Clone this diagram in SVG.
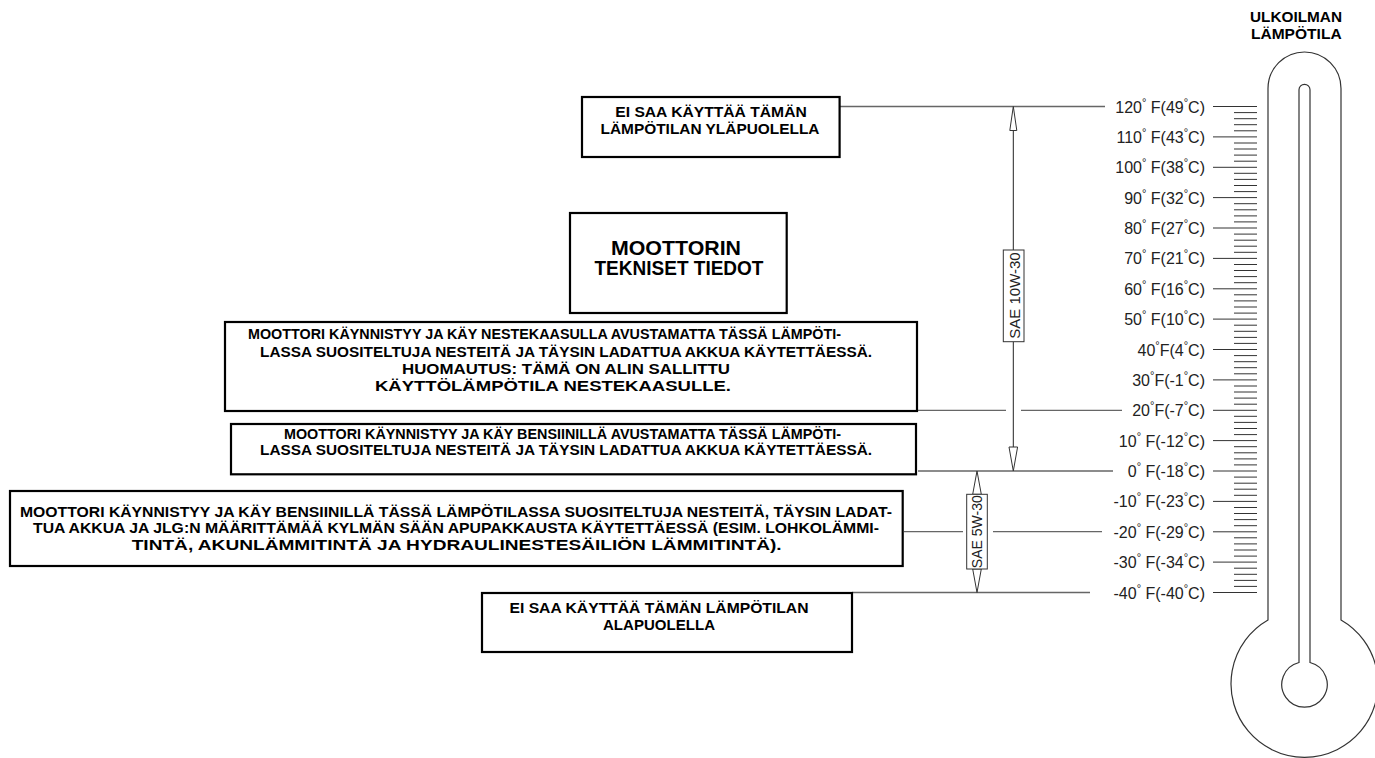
<svg xmlns="http://www.w3.org/2000/svg" width="1375" height="758" viewBox="0 0 1375 758">
<style>
.box{fill:#fff;stroke:#000;stroke-width:2.2}
.bt{font-family:"Liberation Sans",Arial,sans-serif;font-weight:bold;font-size:14px;fill:#000}
.big{font-family:"Liberation Sans",Arial,sans-serif;font-weight:bold;font-size:20px;fill:#000}
.lbl{font-family:"Liberation Sans",Arial,sans-serif;font-size:16px;fill:#222}
.deg{font-size:11px}
.sae{font-family:"Liberation Sans",Arial,sans-serif;font-size:15px;fill:#222}
.conn{stroke:#666;stroke-width:1.3;fill:none}
.arr{stroke:#222;stroke-width:1;fill:none}
.head{stroke:#333;stroke-width:1;fill:#fff}
.tick{stroke:#333;stroke-width:1}
.thermo{stroke:#333;stroke-width:1.2;fill:none}
</style>
<rect width="1375" height="758" fill="#fff"/>

<g id="connectors">
  <line class="conn" x1="840" y1="106.5" x2="1105" y2="106.5"/>
  <line class="conn" x1="918" y1="410.3" x2="1006" y2="410.3"/>
  <line class="conn" x1="1021" y1="410.3" x2="1122" y2="410.3"/>
  <line class="conn" x1="918" y1="471" x2="1113" y2="471"/>
  <line class="conn" x1="904" y1="531.7" x2="963" y2="531.7"/>
  <line class="conn" x1="993" y1="531.7" x2="1102" y2="531.7"/>
  <line class="conn" x1="852" y1="592.5" x2="1090" y2="592.5"/>
  <g id="sae10w30">
    <line class="arr" x1="1013.3" y1="130" x2="1013.3" y2="250"/>
    <line class="arr" x1="1013.3" y1="341.7" x2="1013.3" y2="447"/>
    <polygon class="head" points="1013.3,106.5 1009.8,130.5 1016.8,130.5"/>
    <polygon class="head" points="1013.3,471 1009,447 1017.6,447"/>
    <rect x="1003.3" y="250" width="20.7" height="91.7" fill="#fff" stroke="#333" stroke-width="1"/>
    <text class="sae" transform="translate(1019.8,295.5) rotate(-90)" text-anchor="middle">SAE 10W-30</text>
  </g>
  <g id="sae5w30">
    <polygon class="head" points="977,471 972.7,494.3 981.3,494.3"/>
    <polygon class="head" points="977,592.5 972.7,569 981.3,569"/>
    <rect x="966.7" y="494.3" width="20.6" height="74.7" fill="#fff" stroke="#333" stroke-width="1"/>
    <text class="sae" style="font-size:14px" transform="translate(982,531.7) rotate(-90)" text-anchor="middle">SAE 5W-30</text>
  </g>
</g>

<g id="box-above">
  <rect class="box" x="582" y="97" width="257.6" height="60"/>
  <text class="bt" x="711" y="117" text-anchor="middle" textLength="191.5" lengthAdjust="spacingAndGlyphs">EI SAA KÄYTTÄÄ TÄMÄN</text>
  <text class="bt" x="710" y="134" text-anchor="middle" textLength="219" lengthAdjust="spacingAndGlyphs">LÄMPÖTILAN YLÄPUOLELLA</text>
</g>

<g id="box-title">
  <rect class="box" x="570" y="213" width="216.7" height="100"/>
  <text class="big" x="676" y="255" text-anchor="middle" textLength="130" lengthAdjust="spacingAndGlyphs">MOOTTORIN</text>
  <text class="big" x="679" y="275" text-anchor="middle" textLength="169" lengthAdjust="spacingAndGlyphs">TEKNISET TIEDOT</text>
</g>

<g id="box-lpg">
  <rect class="box" x="225" y="322" width="692" height="89"/>
  <text class="bt" x="248" y="339.3" textLength="593" lengthAdjust="spacingAndGlyphs">MOOTTORI KÄYNNISTYY JA KÄY NESTEKAASULLA AVUSTAMATTA TÄSSÄ LÄMPÖTI-</text>
  <text class="bt" x="260" y="356.7" textLength="612" lengthAdjust="spacingAndGlyphs">LASSA SUOSITELTUJA NESTEITÄ JA TÄYSIN LADATTUA AKKUA KÄYTETTÄESSÄ.</text>
  <text class="bt" x="402" y="374" textLength="328" lengthAdjust="spacingAndGlyphs">HUOMAUTUS: TÄMÄ ON ALIN SALLITTU</text>
  <text class="bt" x="375" y="391" textLength="356" lengthAdjust="spacingAndGlyphs">KÄYTTÖLÄMPÖTILA NESTEKAASULLE.</text>
</g>

<g id="box-petrol">
  <rect class="box" x="231" y="424" width="685" height="50.3"/>
  <text class="bt" x="284" y="438.8" textLength="557" lengthAdjust="spacingAndGlyphs">MOOTTORI KÄYNNISTYY JA KÄY BENSIINILLÄ AVUSTAMATTA TÄSSÄ LÄMPÖTI-</text>
  <text class="bt" x="260" y="455.3" textLength="612" lengthAdjust="spacingAndGlyphs">LASSA SUOSITELTUJA NESTEITÄ JA TÄYSIN LADATTUA AKKUA KÄYTETTÄESSÄ.</text>
</g>

<g id="box-cold">
  <rect class="box" x="10" y="491" width="892.7" height="75"/>
  <text class="bt" x="20" y="517" textLength="872" lengthAdjust="spacingAndGlyphs">MOOTTORI KÄYNNISTYY JA KÄY BENSIINILLÄ TÄSSÄ LÄMPÖTILASSA SUOSITELTUJA NESTEITÄ, TÄYSIN LADAT-</text>
  <text class="bt" x="33" y="533.3" textLength="846" lengthAdjust="spacingAndGlyphs">TUA AKKUA JA JLG:N MÄÄRITTÄMÄÄ KYLMÄN SÄÄN APUPAKKAUSTA KÄYTETTÄESSÄ (ESIM. LOHKOLÄMMI-</text>
  <text class="bt" x="131.7" y="549.5" textLength="650" lengthAdjust="spacingAndGlyphs">TINTÄ, AKUNLÄMMITINTÄ JA HYDRAULINESTESÄILIÖN LÄMMITINTÄ).</text>
</g>

<g id="box-below">
  <rect class="box" x="482" y="593" width="370" height="59"/>
  <text class="bt" x="659" y="613.3" text-anchor="middle" textLength="299" lengthAdjust="spacingAndGlyphs">EI SAA KÄYTTÄÄ TÄMÄN LÄMPÖTILAN</text>
  <text class="bt" x="659" y="630" text-anchor="middle" textLength="112" lengthAdjust="spacingAndGlyphs">ALAPUOLELLA</text>
</g>

<g id="thermometer">
  <text class="bt" x="1296" y="21.5" text-anchor="middle" textLength="92" lengthAdjust="spacingAndGlyphs">ULKOILMAN</text>
  <text class="bt" x="1296.3" y="39.3" text-anchor="middle" textLength="90.7" lengthAdjust="spacingAndGlyphs">LÄMPÖTILA</text>
  <path class="thermo" d="M1268,620 V88.5 A36.5,36.5 0 0 1 1341,88.5 V620 A73.5,73.5 0 1 1 1268,620 Z"/>
  <path class="thermo" d="M1299,662.5 V89.8 A5.5,5.5 0 0 1 1310,89.8 V662.5 A22.7,22.7 0 1 1 1299,662.5 Z"/>
</g>

<g id="scale-ticks">
  <path class="tick" d="M1234,106.5h23M1234,112.6h23M1234,118.7h23M1234,124.7h23M1234,130.8h23M1234,136.9h23M1234,143h23M1234,149h23M1234,155.1h23M1234,161.2h23M1234,167.3h23M1234,173.3h23M1234,179.4h23M1234,185.5h23M1234,191.6h23M1234,197.6h23M1234,203.7h23M1234,209.8h23M1234,215.9h23M1234,221.9h23M1234,228h23M1234,234.1h23M1234,240.2h23M1234,246.2h23M1234,252.3h23M1234,258.4h23M1234,264.5h23M1234,270.5h23M1234,276.6h23M1234,282.7h23M1234,288.8h23M1234,294.8h23M1234,300.9h23M1234,307h23M1234,313.1h23M1234,319.1h23M1234,325.2h23M1234,331.3h23M1234,337.4h23M1234,343.4h23M1234,349.5h23M1234,355.6h23M1234,361.7h23M1234,367.7h23M1234,373.8h23M1234,379.9h23M1234,386h23M1234,392h23M1234,398.1h23M1234,404.2h23M1234,410.3h23M1234,416.3h23M1234,422.4h23M1234,428.5h23M1234,434.6h23M1234,440.6h23M1234,446.7h23M1234,452.8h23M1234,458.9h23M1234,464.9h23M1234,471h23M1234,477.1h23M1234,483.2h23M1234,489.2h23M1234,495.3h23M1234,501.4h23M1234,507.5h23M1234,513.5h23M1234,519.6h23M1234,525.7h23M1234,531.8h23M1234,537.8h23M1234,543.9h23M1234,550h23M1234,556.1h23M1234,562.1h23M1234,568.2h23M1234,574.3h23M1234,580.4h23M1234,586.4h23M1234,592.5h23"/>
  <path class="tick" d="M1213,106.5h21M1213,136.9h21M1213,167.3h21M1213,197.6h21M1213,228h21M1213,258.4h21M1213,288.8h21M1213,319.1h21M1213,349.5h21M1213,379.9h21M1213,410.3h21M1213,440.6h21M1213,471h21M1213,501.4h21M1213,531.8h21M1213,562.1h21M1213,592.5h21"/>
</g>

<g id="scale-labels">
  <text class="lbl" x="1205" y="112.5" text-anchor="end">120<tspan class="deg" dy="-7">°</tspan><tspan dy="7"> F(49</tspan><tspan class="deg" dy="-7">°</tspan><tspan dy="7">C)</tspan></text>
  <text class="lbl" x="1205" y="142.9" text-anchor="end">110<tspan class="deg" dy="-7">°</tspan><tspan dy="7"> F(43</tspan><tspan class="deg" dy="-7">°</tspan><tspan dy="7">C)</tspan></text>
  <text class="lbl" x="1205" y="173.3" text-anchor="end">100<tspan class="deg" dy="-7">°</tspan><tspan dy="7"> F(38</tspan><tspan class="deg" dy="-7">°</tspan><tspan dy="7">C)</tspan></text>
  <text class="lbl" x="1205" y="203.6" text-anchor="end">90<tspan class="deg" dy="-7">°</tspan><tspan dy="7"> F(32</tspan><tspan class="deg" dy="-7">°</tspan><tspan dy="7">C)</tspan></text>
  <text class="lbl" x="1205" y="234" text-anchor="end">80<tspan class="deg" dy="-7">°</tspan><tspan dy="7"> F(27</tspan><tspan class="deg" dy="-7">°</tspan><tspan dy="7">C)</tspan></text>
  <text class="lbl" x="1205" y="264.4" text-anchor="end">70<tspan class="deg" dy="-7">°</tspan><tspan dy="7"> F(21</tspan><tspan class="deg" dy="-7">°</tspan><tspan dy="7">C)</tspan></text>
  <text class="lbl" x="1205" y="294.8" text-anchor="end">60<tspan class="deg" dy="-7">°</tspan><tspan dy="7"> F(16</tspan><tspan class="deg" dy="-7">°</tspan><tspan dy="7">C)</tspan></text>
  <text class="lbl" x="1205" y="325.1" text-anchor="end">50<tspan class="deg" dy="-7">°</tspan><tspan dy="7"> F(10</tspan><tspan class="deg" dy="-7">°</tspan><tspan dy="7">C)</tspan></text>
  <text class="lbl" x="1205" y="355.5" text-anchor="end">40<tspan class="deg" dy="-7">°</tspan><tspan dy="7">F(4</tspan><tspan class="deg" dy="-7">°</tspan><tspan dy="7">C)</tspan></text>
  <text class="lbl" x="1205" y="385.9" text-anchor="end">30<tspan class="deg" dy="-7">°</tspan><tspan dy="7">F(-1</tspan><tspan class="deg" dy="-7">°</tspan><tspan dy="7">C)</tspan></text>
  <text class="lbl" x="1205" y="416.3" text-anchor="end">20<tspan class="deg" dy="-7">°</tspan><tspan dy="7">F(-7</tspan><tspan class="deg" dy="-7">°</tspan><tspan dy="7">C)</tspan></text>
  <text class="lbl" x="1205" y="446.6" text-anchor="end">10<tspan class="deg" dy="-7">°</tspan><tspan dy="7"> F(-12</tspan><tspan class="deg" dy="-7">°</tspan><tspan dy="7">C)</tspan></text>
  <text class="lbl" x="1205" y="477" text-anchor="end">0<tspan class="deg" dy="-7">°</tspan><tspan dy="7"> F(-18</tspan><tspan class="deg" dy="-7">°</tspan><tspan dy="7">C)</tspan></text>
  <text class="lbl" x="1205" y="507.4" text-anchor="end">-10<tspan class="deg" dy="-7">°</tspan><tspan dy="7"> F(-23</tspan><tspan class="deg" dy="-7">°</tspan><tspan dy="7">C)</tspan></text>
  <text class="lbl" x="1205" y="537.8" text-anchor="end">-20<tspan class="deg" dy="-7">°</tspan><tspan dy="7"> F(-29</tspan><tspan class="deg" dy="-7">°</tspan><tspan dy="7">C)</tspan></text>
  <text class="lbl" x="1205" y="568.1" text-anchor="end">-30<tspan class="deg" dy="-7">°</tspan><tspan dy="7"> F(-34</tspan><tspan class="deg" dy="-7">°</tspan><tspan dy="7">C)</tspan></text>
  <text class="lbl" x="1205" y="598.5" text-anchor="end">-40<tspan class="deg" dy="-7">°</tspan><tspan dy="7"> F(-40</tspan><tspan class="deg" dy="-7">°</tspan><tspan dy="7">C)</tspan></text>
</g>
</svg>
